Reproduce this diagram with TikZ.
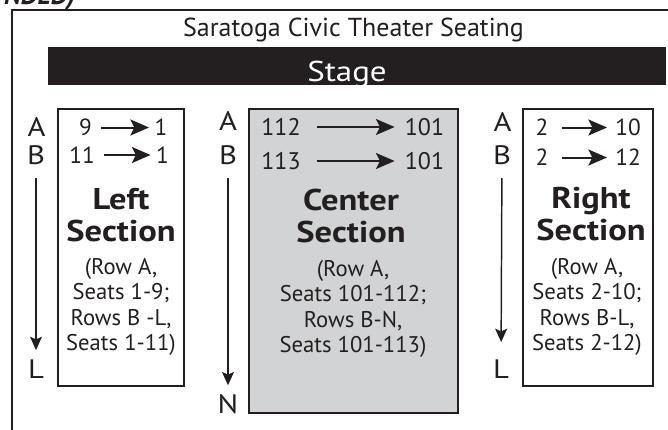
\documentclass[tikz,border=0pt]{standalone}
\usepackage{fontspec}
\setmainfont{PT Sans}
\newfontfamily\wideface{PT Sans}[FakeStretch=1.15]
\usetikzlibrary{arrows.meta, positioning}
\definecolor{ink}{HTML}{231F20}
\definecolor{seatgray}{HTML}{D1D3D4}
\tikzset{
  sectbox/.style={rectangle, draw=ink, line width=1.5pt, inner sep=0pt},
  rowlabel/.style={inner sep=0pt, text=ink, font=\wideface\fontsize{20}{22}\selectfont},
  seatnum/.style={inner sep=0pt, text=ink, font=\fontsize{17.5}{19}\selectfont},
  heading/.style={align=center, inner sep=0pt, text=ink,
                  font=\wideface\fontsize{22.5}{23.5}\selectfont\bfseries},
  detail/.style={align=center, inner sep=0pt, text=ink,
                 font=\fontsize{17}{18.9}\selectfont},
  seatarrow/.style={-{Stealth[length=14pt, width=12pt, inset=3pt]},
                    line width=1.5pt, draw=ink},
  rowarrow/.style={-{Stealth[length=10pt, width=9pt, inset=2pt]},
                   line width=1.1pt, draw=ink, shorten <=10pt, shorten >=7pt},
}
\begin{document}
\begin{tikzpicture}[x=0.75pt, y=-0.75pt]
  \useasboundingbox (0,0) rectangle (668,429);

  %% Frame, title and stage
  \node[anchor=base east, text=ink, font=\fontsize{20}{22}\selectfont\bfseries\itshape]
    (cutTitle) at (80,4) {NDED)};
  \draw[ink, line width=1.5pt] (12,440) -- (12,10) -- (680,10);
  \node[anchor=base, text=ink, font=\fontsize{19.5}{21}\selectfont]
    (title) at (353.5,36) {Saratoga Civic Theater Seating};
  \fill[ink] (48,47) rectangle (666,85);
  \node[anchor=base, text=white, font=\wideface\fontsize{21.5}{23}\selectfont]
    (stage) at (347,81) {Stage};

  %% Section boxes
  \node[sectbox, minimum width=94.5pt, minimum height=207.75pt] (leftSec) at (121,247.5) {};
  \node[sectbox, fill=seatgray, minimum width=156.75pt, minimum height=228pt] (centerSec) at (353.5,261) {};
  \node[sectbox, minimum width=97.5pt, minimum height=207.75pt] (rightSec) at (588,247.5) {};

  %% Left section
  \node[rowlabel] (lRowA) at (36.5,127) {A};
  \node[rowlabel] (lRowB) at (36,155) {B};
  \node[rowlabel] (lRowL) at (36,369) {L};
  \draw[rowarrow] (lRowB) -- (lRowL);
  \node[seatnum] (lFromA) at (85.5,127.5) {9};
  \node[seatnum] (lToA) at (161,127.5) {1};
  \node[seatnum] (lFromB) at (82,155) {11};
  \node[seatnum] (lToB) at (162.5,155) {1};
  \draw[seatarrow, shorten <=7pt, shorten >=4pt] (lFromA) -- (lToA);
  \draw[seatarrow, shorten <=7pt, shorten >=4pt] (lFromB) -- (lToB);
  \node[heading] (lHead) at (121,215) {Left\\Section};
  \node[detail] (lInfo) at (121,307) {(Row A,\\Seats 1-9;\\Rows B -L,\\Seats 1-11)};

  %% Center section
  \node[rowlabel] (cRowA) at (228,121) {A};
  \node[rowlabel] (cRowB) at (228,155) {B};
  \node[rowlabel] (cRowN) at (228,404.5) {N};
  \draw[rowarrow] (cRowB) -- (cRowN);
  \node[seatnum, font=\fontsize{18}{20}\selectfont] (cFromA) at (281,127) {112};
  \node[seatnum, font=\fontsize{18}{20}\selectfont] (cToA) at (424.5,127) {101};
  \node[seatnum, font=\fontsize{18}{20}\selectfont] (cFromB) at (281,161) {113};
  \node[seatnum, font=\fontsize{18}{20}\selectfont] (cToB) at (424.5,161) {101};
  \draw[seatarrow, shorten <=12pt, shorten >=7.5pt] (cFromA) -- (cToA);
  \draw[seatarrow, shorten <=12pt, shorten >=7.5pt] (cFromB) -- (cToB);
  \node[heading] (cHead) at (351,216) {Center\\Section};
  \node[detail] (cInfo) at (353,309) {(Row A,\\Seats 101-112;\\Rows B-N,\\Seats 101-113)};

  %% Right section
  \node[rowlabel] (rRowA) at (502.5,122) {A};
  \node[rowlabel] (rRowB) at (502,155) {B};
  \node[rowlabel] (rRowL) at (501,369) {L};
  \draw[rowarrow, shorten >=13pt] (rRowB) -- (rRowL);
  \node[seatnum] (rFromA) at (542,127.5) {2};
  \node[seatnum] (rToA) at (628,127.5) {10};
  \node[seatnum] (rFromB) at (542,157.5) {2};
  \node[seatnum] (rToB) at (628,157.5) {12};
  \draw[seatarrow, shorten <=10pt, shorten >=6pt] (rFromA) -- (rToA);
  \draw[seatarrow, shorten <=10pt, shorten >=6pt] (rFromB) -- (rToB);
  \node[heading] (rHead) at (591,214) {Right\\Section};
  \node[detail] (rInfo) at (587,307) {(Row A,\\Seats 2-10;\\Rows B-L,\\Seats 2-12)};
\end{tikzpicture}
\end{document}
